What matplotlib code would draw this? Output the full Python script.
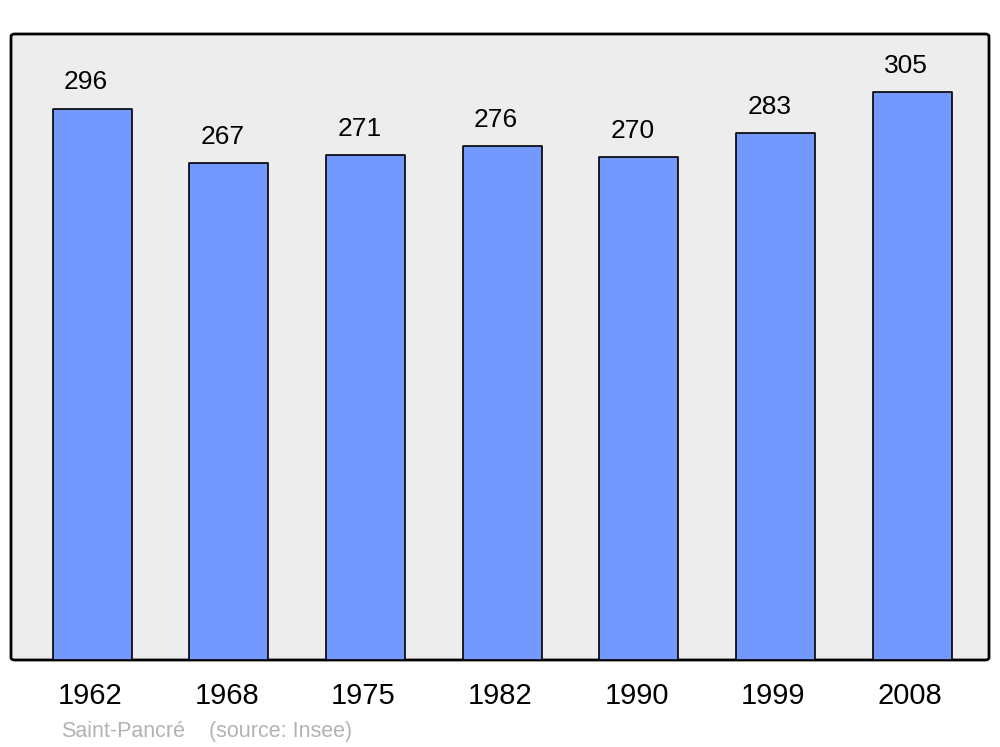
"""Population bar chart for Saint-Pancré (Insee census years)."""
import matplotlib
matplotlib.use("Agg")
import matplotlib.pyplot as plt
from matplotlib.patches import FancyBboxPatch

plt.rcParams["font.family"] = ["Liberation Sans", "DejaVu Sans"]

years = ["1962", "1968", "1975", "1982", "1990", "1999", "2008"]
population = [296, 267, 271, 276, 270, 283, 305]

BAR_COLOR = "#7399ff"
PANEL_COLOR = "#ededed"

fig = plt.figure(figsize=(10, 7.47), dpi=100)
ax = fig.add_axes([0.011, 87 / 747, 0.978, 626 / 747])
ax.set_facecolor("none")
for s in ax.spines.values():
    s.set_visible(False)

# rounded panel behind the bars
panel = FancyBboxPatch((0, 0), 1, 1, boxstyle="round,pad=0,rounding_size=0.004",
                       transform=ax.transAxes, facecolor=PANEL_COLOR,
                       edgecolor="black", linewidth=2, clip_on=False, zorder=0)
ax.add_patch(panel)

xs = list(range(len(years)))
bars = ax.bar(xs, population, width=0.578, color=BAR_COLOR, edgecolor="black",
              linewidth=1.2, zorder=2)
for b in bars:
    b.set_joinstyle("round")

ax.set_xlim(-0.593, 6.563)
ax.set_ylim(0, 336)
ax.set_xticks([])
ax.set_yticks([])

for x, v in zip(xs, population):
    ax.annotate(str(v), xy=(x, v), xytext=(-4.3, 13.7), textcoords="offset points",
                ha="center", va="baseline", fontsize=19)

for x, y in zip(xs, years):
    ax.annotate(y, xy=(x, 0), xycoords=("data", "axes fraction"),
                xytext=(-1.4, -31.7), textcoords="offset points",
                ha="center", va="baseline", fontsize=21)

fig.text(61 / 1000, 1 - 737 / 747, "Saint-Pancré", color="#b3b3b3",
         fontsize=15.5, ha="left", va="baseline")
fig.text(209 / 1000, 1 - 737 / 747, "(source: Insee)", color="#b3b3b3",
         fontsize=15.5, ha="left", va="baseline")

fig.savefig("out.png")
